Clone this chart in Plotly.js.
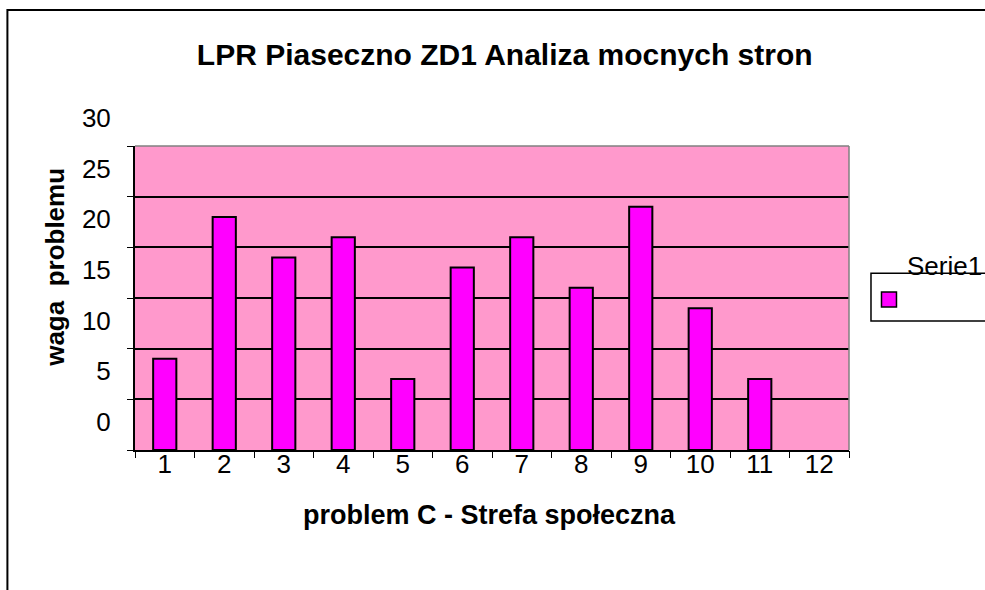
<!DOCTYPE html>
<html>
<head>
<meta charset="utf-8">
<script src="https://cdn.plot.ly/plotly-3.0.1.min.js"></script>
<style>
  html, body { margin: 0; padding: 0; background: #fff; }
  #chart { width: 985px; height: 590px; }
</style>
</head>
<body>
<div id="chart"></div>
<script>
// dane
const problems = [1, 2, 3, 4, 5, 6, 7, 8, 9, 10, 11, 12];
const problemLabels = ["1", "2", "3", "4", "5", "6", "7", "8", "9", "10", "11", "12"];
const weights = [9, 23, 19, 21, 7, 18, 21, 16, 24, 14, 7, null];
const yTicks = [0, 5, 10, 15, 20, 25, 30];
const seriesName = "Serie1";

const FONT = "Liberation Sans, Arial, sans-serif";

// kreski osi X na granicach kategorii
const boundaries = problems.map(p => p - 0.5).concat([problems[problems.length - 1] + 0.5]);
const xRange = [0.5, 12.5];

const trace = {
    x: problems,
    y: weights,
    type: 'bar',
    name: seriesName,
    marker: { color: '#FF00FF', line: { color: '#000', width: 2 } },
    hoverinfo: 'x+y'
};

// pusty slad, zeby druga os X zostala narysowana
const tickHolder = { x: [], y: [], type: 'scatter', xaxis: 'x2', yaxis: 'y', showlegend: false };

const layout = {
    width: 985,
    height: 590,
    margin: { l: 135, r: 136, t: 146, b: 140 },
    paper_bgcolor: '#fff',
    plot_bgcolor: '#FF99CC',
    font: { family: FONT, color: '#000', size: 26 },
    showlegend: false,
    bargap: 0.61,
    title: {
        text: '<b>LPR Piaseczno ZD1 Analiza mocnych stron</b>',
        font: { family: FONT, size: 30, color: '#000' },
        x: 0.5124, xanchor: 'center',
        y: 0.908, yanchor: 'middle'
    },
    xaxis: {
        range: xRange,
        tickvals: problems,
        ticktext: problemLabels,
        ticks: '',
        ticklen: 0,
        showline: true,
        linecolor: '#000',
        linewidth: 2,
        showgrid: false,
        zeroline: false,
        tickfont: { size: 26 },
        ticklabelstandoff: -10
    },
    // druga os tylko dla kresek na granicach
    xaxis2: {
        overlaying: 'x',
        anchor: 'y',
        side: 'bottom',
        range: xRange,
        tickvals: boundaries,
        ticks: 'outside',
        ticklen: 7,
        tickcolor: '#000',
        tickwidth: 1,
        showticklabels: false,
        showline: false,
        showgrid: false,
        zeroline: false
    },
    yaxis: {
        range: [0, 30],
        tickvals: yTicks,
        ticks: 'outside',
        ticklen: 6,
        tickcolor: '#000',
        showline: true,
        linecolor: '#000',
        linewidth: 2,
        gridcolor: '#000',
        gridwidth: 1.7,
        zeroline: false,
        tickfont: { size: 26 },
        ticklabelshift: -28,
        ticklabelstandoff: 11
    },
    shapes: [
        // ramka wykresu (gora i prawo szare)
        { type: 'line', xref: 'paper', yref: 'paper', x0: 0, x1: 1, y0: 1, y1: 1, line: { color: '#808080', width: 1.5 } },
        { type: 'line', xref: 'paper', yref: 'paper', x0: 1, x1: 1, y0: 0, y1: 1, line: { color: '#808080', width: 1.5 } },
        // ramka calego obszaru
        { type: 'rect', xref: 'paper', yref: 'paper', x0: -0.1787, x1: 1.4, y0: -0.6, y1: 1.4472, line: { color: '#000', width: 2 } },
        // legenda
        { type: 'rect', xref: 'paper', yref: 'paper', x0: 1.0308, x1: 1.2, y0: 0.424, y1: 0.5815, fillcolor: '#fff', line: { color: '#000', width: 1.5 } },
        { type: 'rect', xref: 'paper', yref: 'paper', x0: 1.0455, x1: 1.0665, y0: 0.4703, y1: 0.5198, fillcolor: '#FF00FF', line: { color: '#000', width: 1.5 } }
    ],
    annotations: [
        {
            text: '<b>waga  problemu</b>', xref: 'paper', yref: 'paper',
            x: -0.1114, y: 0.6007, xanchor: 'center', yanchor: 'middle',
            textangle: -90, showarrow: false, font: { size: 26 }
        },
        {
            text: '<b>problem C - Strefa społeczna</b>', xref: 'paper', yref: 'paper',
            x: 0.4968, y: -0.2129, xanchor: 'center', yanchor: 'middle',
            showarrow: false, font: { size: 27 }
        },
        {
            text: seriesName, xref: 'paper', yref: 'paper',
            x: 1.0785, y: 0.6056, xanchor: 'left', yanchor: 'middle',
            showarrow: false, font: { size: 26 }
        }
    ]
};

Plotly.newPlot('chart', [trace, tickHolder], layout, { staticPlot: true });
</script>
</body>
</html>
